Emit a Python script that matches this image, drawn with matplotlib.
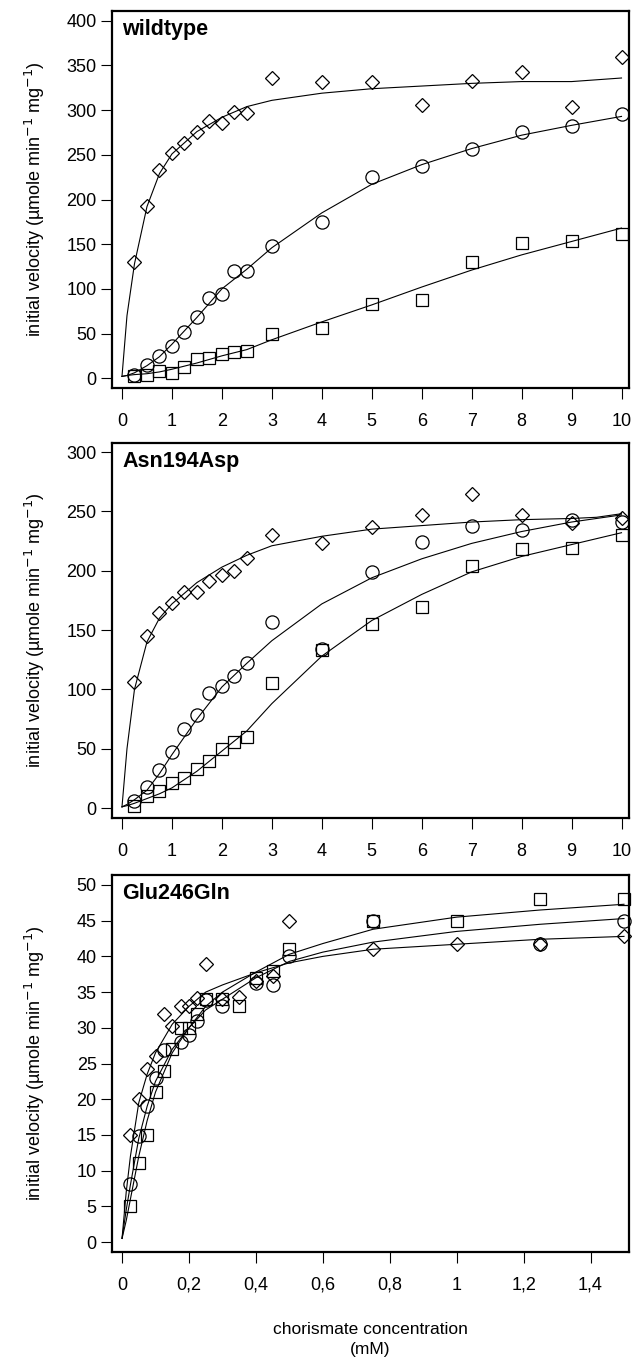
import matplotlib
matplotlib.use("Agg")
import matplotlib.pyplot as plt

plt.rcParams['font.family'] = ['Liberation Sans', 'DejaVu Sans']

# ---------------- wildtype ----------------
wt_x = [0.25, 0.5, 0.75, 1, 1.25, 1.5, 1.75, 2, 2.25, 2.5, 3, 4, 5, 6, 7, 8, 9, 10]
wt_diamond = [130, 193, 233, 252, 263, 275, 288, 286, 298, 297, 336, 332, 331, 306, 333, 343, 304, 360]
wt_circle = [3, 15, 25, 36, 52, 69, 90, 94, 120, 120, 148, 175, 225, 238, 257, 275, 282, 296]
wt_square = [2, 4, 8, 6, 13, 21, 23, 27, 29, 30, 50, 56, 83, 87, 130, 151, 153, 161]

wt_fit_x = [0, 0.1, 0.25, 0.5, 0.75, 1, 1.5, 2, 2.5, 3, 4, 5, 6, 7, 8, 9, 10]
wt_fit_diamond = [2, 70, 128, 192, 229, 251, 276, 292, 304, 311, 319, 324, 327, 330, 332, 332, 336]
wt_fit_circle = [2, 3, 6, 14, 24, 38, 68, 100, 122, 146, 185, 217, 239, 257, 272, 283, 293]
wt_fit_square = [2, 3, 4, 5, 7, 10, 17, 25, 32, 43, 63, 82, 102, 121, 138, 153, 168]

# ---------------- Asn194Asp ----------------
asn_x = [0.25, 0.5, 0.75, 1, 1.25, 1.5, 1.75, 2, 2.25, 2.5, 3, 4, 5, 6, 7, 8, 9, 10]
asn_diamond = [106, 145, 164, 173, 182, 182, 191, 196, 200, 211, 230, 223, 237, 247, 265, 247, 240, 244]
asn_circle = [6, 18, 32, 47, 67, 78, 97, 103, 111, 122, 157, 134, 199, 224, 238, 234, 243, 241]
asn_square = [2, 10, 14, 21, 25, 33, 40, 50, 56, 60, 105, 133, 155, 169, 204, 218, 219, 230]

asn_fit_x = [0, 0.1, 0.25, 0.5, 0.75, 1, 1.5, 2, 2.5, 3, 4, 5, 6, 7, 8, 9, 9.5, 10]
asn_fit_diamond = [1, 50, 100, 140, 160, 172, 190, 203, 213, 221, 229, 235, 238, 241, 243, 244, 245, 248]
asn_fit_circle = [1, 3, 7, 15, 29, 45, 75, 102, 122, 141, 172, 194, 210, 223, 233, 241, 244, 247]
asn_fit_square = [1, 2, 4, 8, 12, 17, 31, 48, 65, 88, 128, 158, 180, 199, 212, 222, 227, 232]

# ---------------- Glu246Gln ----------------
glu_dx = [0.025, 0.05, 0.075, 0.1, 0.125, 0.15, 0.175, 0.2, 0.225, 0.25, 0.3, 0.35, 0.4, 0.45, 0.5, 0.75, 1.0, 1.25, 1.5]
glu_diamond = [15, 20, 24.2, 26, 32, 30.2, 33, 33, 34.2, 39, 34, 34.3, 36.5, 37.2, 45, 41, 41.8, 41.8, 42.9]
glu_cx = [0.025, 0.05, 0.075, 0.1, 0.125, 0.175, 0.2, 0.225, 0.25, 0.3, 0.4, 0.45, 0.5, 0.75, 1.25, 1.5]
glu_circle = [8.1, 14.9, 19, 23, 26.9, 28, 29, 30.9, 33.9, 33, 36.3, 36, 40, 44.9, 41.8, 44.9]
glu_sx = [0.025, 0.05, 0.075, 0.1, 0.125, 0.15, 0.175, 0.2, 0.225, 0.25, 0.3, 0.35, 0.4, 0.45, 0.5, 0.75, 1.0, 1.25, 1.5]
glu_square = [5, 11, 15, 21, 24, 27, 30, 30, 32, 34, 34, 33, 37, 38, 41, 45, 45, 48, 48]

glu_fit_x = [0, 0.0125, 0.025, 0.05, 0.075, 0.1, 0.15, 0.2, 0.25, 0.3, 0.4, 0.5, 0.6, 0.75, 1.0, 1.25, 1.5]
glu_fit_diamond = [0.5, 7, 12, 19.5, 23.5, 26.5, 30.5, 33, 35, 36, 37.7, 39.1, 40, 41, 41.7, 42.4, 42.8]
glu_fit_circle = [0.5, 4.5, 8, 14.5, 19, 22.5, 27, 30, 32.5, 34, 37, 39.3, 40.6, 42, 43.5, 44.5, 45.3]
glu_fit_square = [0.5, 3, 6, 12, 17, 21, 26.5, 30, 33, 35, 37.8, 40.3, 41.8, 43.8, 45.5, 46.5, 47.3]

wt_yticks = [0, 50, 100, 150, 200, 250, 300, 350, 400]
asn_yticks = [0, 50, 100, 150, 200, 250, 300]
glu_yticks = [0, 5, 10, 15, 20, 25, 30, 35, 40, 45, 50]
conc_ticks = [0, 1, 2, 3, 4, 5, 6, 7, 8, 9, 10]
glu_xticks = [0, 0.2, 0.4, 0.6, 0.8, 1.0, 1.2, 1.4]
glu_xticklabels = ['0', '0,2', '0,4', '0,6', '0,8', '1', '1,2', '1,4']

ylabel = 'initial velocity (µmole min$^{-1}$ mg$^{-1}$)'

fig = plt.figure(figsize=(6.34, 13.59), dpi=100)
W, H = 634.0, 1359.0

def make_ax(left, top, right, bottom):
    return fig.add_axes([left / W, 1 - bottom / H, (right - left) / W, (bottom - top) / H])

mk = dict(linestyle='none', markerfacecolor='none', markeredgecolor='black',
          markeredgewidth=0.9, clip_on=False, zorder=3)
ln = dict(color='black', linewidth=0.8, zorder=2)

def style(ax, title, xlim, ylim, yticks, xticks, xticklabels=None):
    ax.set_xlim(*xlim)
    ax.set_ylim(*ylim)
    ax.set_yticks(yticks)
    ax.set_xticks(xticks)
    if xticklabels is not None:
        ax.set_xticklabels(xticklabels)
    for s in ax.spines.values():
        s.set_linewidth(1.6)
    ax.tick_params(direction='out', length=8, width=0.8, labelsize=13, pad=3)
    ax.tick_params(axis='x', pad=10)
    ax.text(0.02, 0.952, title, transform=ax.transAxes, fontsize=15.5,
            fontweight='bold', ha='left', va='center')
    ax.set_ylabel(ylabel, fontsize=13)

def draw(ax, fx, f1, f2, f3, dx, d, cx, c, sx, s):
    ax.plot(fx, f1, **ln)
    ax.plot(fx, f2, **ln)
    ax.plot(fx, f3, **ln)
    ax.plot(dx, d, marker='D', markersize=7.5, **mk)
    ax.plot(cx, c, marker='o', markersize=9.5, **mk)
    ax.plot(sx, s, marker='s', markersize=8.5, **mk)

# top panel
ax1 = make_ax(112, 11, 629, 388)
draw(ax1, wt_fit_x, wt_fit_diamond, wt_fit_circle, wt_fit_square,
     wt_x, wt_diamond, wt_x, wt_circle, wt_x, wt_square)
style(ax1, 'wildtype', (-0.2, 10.15), (-11, 411), wt_yticks, conc_ticks)

# middle panel
ax2 = make_ax(112, 443, 629, 818)
draw(ax2, asn_fit_x, asn_fit_diamond, asn_fit_circle, asn_fit_square,
     asn_x, asn_diamond, asn_x, asn_circle, asn_x, asn_square)
style(ax2, 'Asn194Asp', (-0.2, 10.15), (-8.4, 307.6), asn_yticks, conc_ticks)

# bottom panel
ax3 = make_ax(112, 875, 629, 1252)
draw(ax3, glu_fit_x, glu_fit_diamond, glu_fit_circle, glu_fit_square,
     glu_dx, glu_diamond, glu_cx, glu_circle, glu_sx, glu_square)
style(ax3, 'Glu246Gln', (-0.03, 1.515), (-1.4, 51.4), glu_yticks, glu_xticks, glu_xticklabels)
ax3.set_xlabel('chorismate concentration\n(mM)', fontsize=12.5, labelpad=20, linespacing=1.45)

for ax in (ax1, ax2, ax3):
    ax.yaxis.set_label_coords(-0.125, 0.5)

fig.savefig('out.png', dpi=100)
